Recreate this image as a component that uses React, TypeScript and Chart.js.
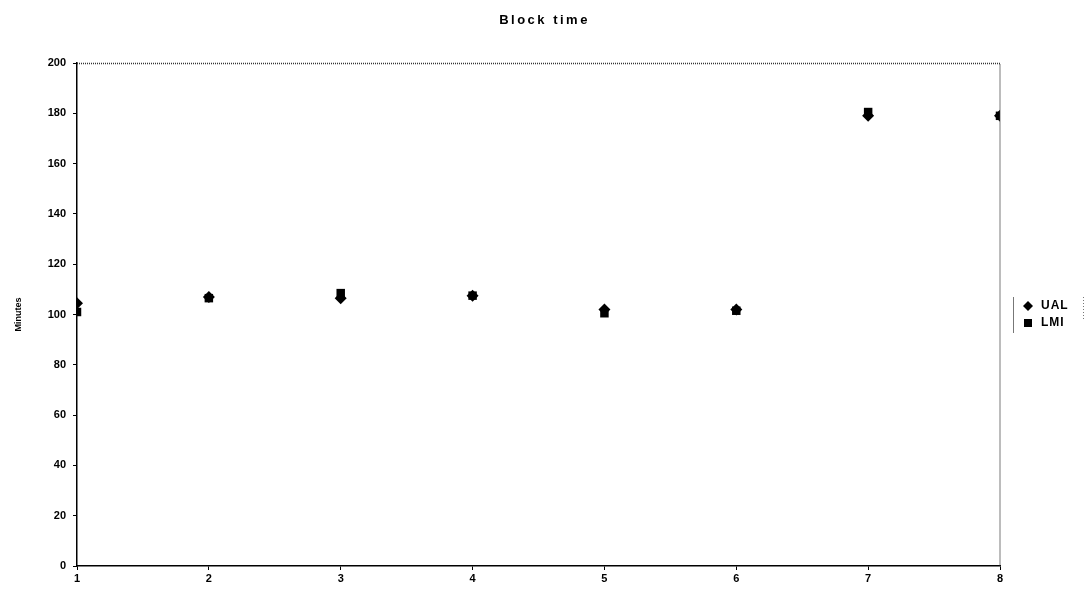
import React, { useEffect, useRef } from "react";
import { Chart, registerables } from "chart.js";

Chart.register(...registerables);

const chartTitle = "Block time";
const yAxisTitle = "Minutes";
const xValues = [1, 2, 3, 4, 5, 6, 7, 8];
const ualValues = [104.5, 107, 106.5, 107.5, 102, 102, 179, 179];
const lmiValues = [101, 106.5, 108.5, 107.5, 100.5, 101.5, 180.5, 179];
const seriesNames = ["UAL", "LMI"];

const FONT = "'Liberation Sans', Arial, sans-serif";

const framePlugin = {
  id: "frameAndDecor",
  afterDraw(chart: any) {
    const { ctx, chartArea } = chart;
    const { left, right, top, bottom } = chartArea;
    ctx.save();
    // dotted top & right frame
    ctx.strokeStyle = "#333";
    ctx.lineWidth = 1.3;
    ctx.setLineDash([1, 1]);
    ctx.beginPath();
    ctx.moveTo(left, top + 0.5);
    ctx.lineTo(right, top + 0.5);
    ctx.lineTo(right, bottom);
    ctx.stroke();
    ctx.setLineDash([]);

    // title
    ctx.fillStyle = "#000";
    ctx.font = `bold 13px ${FONT}`;
    (ctx as any).letterSpacing = "2.5px";
    ctx.textAlign = "center";
    ctx.textBaseline = "middle";
    ctx.fillText(chartTitle, chart.width / 2, 20);
    (ctx as any).letterSpacing = "0px";

    // legend
    const lx = right + 13;
    const ly = 297;
    ctx.strokeStyle = "#777";
    ctx.lineWidth = 1;
    ctx.beginPath();
    ctx.moveTo(lx + 0.5, ly);
    ctx.lineTo(lx + 0.5, ly + 36);
    ctx.stroke();
    ctx.setLineDash([1, 2]);
    ctx.beginPath();
    ctx.moveTo(lx + 70.5, ly);
    ctx.lineTo(lx + 70.5, ly + 24);
    ctx.stroke();
    ctx.setLineDash([]);

    const styles = ["rectRot", "rect"];
    seriesNames.forEach((name, i) => {
      const cy = ly + 9 + i * 17;
      const cx = lx + 15;
      ctx.fillStyle = "#000";
      ctx.beginPath();
      if (styles[i] === "rectRot") {
        ctx.moveTo(cx, cy - 5);
        ctx.lineTo(cx + 5, cy);
        ctx.lineTo(cx, cy + 5);
        ctx.lineTo(cx - 5, cy);
        ctx.closePath();
      } else {
        ctx.rect(cx - 4, cy - 4, 8, 8);
      }
      ctx.fill();
      ctx.font = `bold 12px ${FONT}`;
      (ctx as any).letterSpacing = "1px";
      ctx.textAlign = "left";
      ctx.textBaseline = "middle";
      ctx.fillText(name, cx + 13, cy);
      (ctx as any).letterSpacing = "0px";
    });
    ctx.restore();
  },
};

export default function App() {
  const canvasRef = useRef<HTMLCanvasElement | null>(null);

  useEffect(() => {
    document.body.style.margin = "0";
    const canvas = canvasRef.current;
    if (!canvas) return;
    const chart = new Chart(canvas, {
      type: "scatter",
      data: {
        datasets: [
          {
            label: seriesNames[0],
            data: xValues.map((x, i) => ({ x, y: ualValues[i] })),
            pointStyle: "rectRot",
            pointRadius: 6,
            backgroundColor: "#000",
            borderColor: "#000",
            borderWidth: 0,
          },
          {
            label: seriesNames[1],
            data: xValues.map((x, i) => ({ x, y: lmiValues[i] })),
            pointStyle: "rect",
            pointRadius: 6,
            backgroundColor: "#000",
            borderColor: "#000",
            borderWidth: 0,
          },
        ],
      },
      options: {
        animation: false,
        responsive: false,
        layout: { padding: { top: 63, right: 89, bottom: 0, left: 0 } },
        plugins: {
          legend: { display: false },
          title: { display: false },
          tooltip: { enabled: false },
        },
        scales: {
          x: {
            type: "linear",
            min: 1,
            max: 8,
            afterFit: (scale: any) => {
              scale.height = 31;
            },
            border: { display: true, color: "#000", width: 1.5 },
            grid: {
              display: true,
              drawOnChartArea: false,
              drawTicks: true,
              tickLength: 4,
              color: "#000",
            },
            ticks: {
              stepSize: 1,
              padding: 2,
              color: "#000",
              font: { family: FONT, size: 11, weight: "bold" },
            },
          },
          y: {
            type: "linear",
            min: 0,
            max: 200,
            afterFit: (scale: any) => {
              scale.width = 77;
            },
            border: { display: true, color: "#000", width: 1.5 },
            grid: {
              display: true,
              drawOnChartArea: false,
              drawTicks: true,
              tickLength: 4,
              color: "#000",
            },
            ticks: {
              stepSize: 20,
              padding: 7,
              color: "#000",
              font: { family: FONT, size: 11, weight: "bold" },
            },
            title: {
              display: true,
              text: yAxisTitle,
              color: "#000",
              padding: { top: 13, bottom: 0 },
              font: { family: FONT, size: 9, weight: "bold" },
            },
          },
        },
      },
      plugins: [framePlugin],
    });
    return () => chart.destroy();
  }, []);

  return (
    <div style={{ width: 1089, height: 597 }}>
      <canvas ref={canvasRef} width={1089} height={597} style={{ display: "block" }} />
    </div>
  );
}
